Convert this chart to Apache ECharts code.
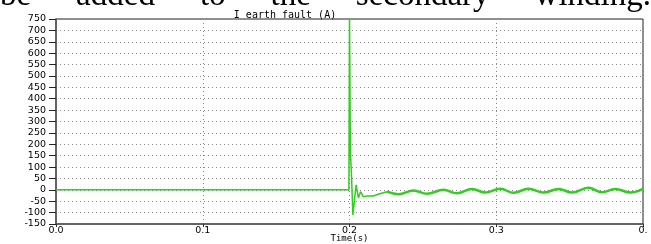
<!DOCTYPE html>
<html>
<head>
<meta charset="utf-8">
<script src="https://cdn.jsdelivr.net/npm/echarts@6/dist/echarts.min.js"></script>
<style>
html, body { margin: 0; padding: 0; background: #fff; overflow: hidden; }
#wrap { position: relative; width: 651px; height: 244px; overflow: hidden; }
#line { position: absolute; left: 0; top: 0; width: 651px; height: 244px; }
#txt {
    position: absolute; left: 0; top: -22px; width: 651px;
    font-family: 'Liberation Serif', serif; font-size: 33px; line-height: 33px;
    text-align: justify; text-align-last: justify; white-space: nowrap; color: #000;
}
</style>
</head>
<body>
<div id="wrap">
    <div id="line"></div>
    <div id="txt">be added to the secondary winding.</div>
</div>
<script>
// time axis ticks
var xTicks = [0, 0.1, 0.2, 0.3, 0.4];
var xTickLabels = ['0.0', '0.1', '0.2', '0.3', '0.'];

// before fault + transient
var tFault = [0, 0.1996, 0.2000, 0.2006, 0.2012, 0.2023, 0.2045, 0.2061, 0.2075, 0.2094, 0.2120, 0.2163, 0.2200, 0.2255];
var iFault = [0, 0, 770, 160, 90, -110, 22, -36, -8, -30, -27, -27, -18, -8];

// steady oscillation after fault (peaks / troughs)
var tOsc = [0.2255, 0.2334, 0.2436, 0.2527, 0.2641, 0.2732, 0.2834, 0.2925, 0.3027, 0.3118, 0.3220, 0.3322, 0.3425, 0.3516, 0.3629, 0.3721, 0.3811, 0.3914, 0.4000];
var iOsc = [-8, -19, -3, -17, 0, -15, 4, -12, 5, -13, 5, -12, 4, -12, 9, -11, 4, -12, 4];

function pairs(t, v) {
    var out = [];
    for (var i = 0; i < t.length; i++) out.push([t[i], v[i]]);
    return out;
}

var line = echarts.init(document.getElementById('line'));
line.setOption({
    animation: false,
    color: ['#33cc22'],
    title: {
        text: 'I earth fault (A)',
        left: 280,
        textAlign: 'center',
        top: 5,
        textStyle: {
            fontFamily: 'DejaVu Sans Mono',
            fontSize: 10,
            fontWeight: 'normal',
            color: '#000'
        }
    },
    grid: {
        left: 56, right: 8, top: 19, bottom: 20,
        outerBoundsMode: 'none',
        containLabel: false,
        show: true,
        borderColor: '#222',
        borderWidth: 1
    },
    xAxis: {
        type: 'value',
        min: 0, max: 0.4, interval: 0.1,
        name: 'Time(s)',
        nameLocation: 'middle',
        nameGap: 10,
        nameMoveOverlap: false,
        nameTextStyle: { fontFamily: 'DejaVu Sans Mono', fontSize: 9, color: '#000' },
        axisLine: { onZero: false, lineStyle: { color: '#555', width: 1.5 } },
        axisTick: { length: 3, lineStyle: { color: '#333' } },
        axisLabel: {
            margin: 2,
            showMinLabel: true, showMaxLabel: true,
            fontFamily: 'DejaVu Sans', fontSize: 9.5, color: '#000',
            formatter: function (v) {
                var k = xTicks.indexOf(Math.round(v * 10) / 10);
                return k >= 0 ? xTickLabels[k] : '';
            }
        },
        splitLine: { show: true, lineStyle: { color: '#888', type: [1, 3] } }
    },
    yAxis: {
        type: 'value',
        min: -150, max: 750, interval: 50,
        axisLine: { show: true, lineStyle: { color: '#555', width: 1.5 } },
        axisTick: { show: true, length: 7, lineStyle: { color: '#222' } },
        axisLabel: {
            margin: 10,
            showMinLabel: true, showMaxLabel: true,
            fontFamily: 'DejaVu Sans', fontSize: 9.5,
            color: '#000'
        },
        splitLine: { show: true, lineStyle: { color: '#888', type: [1, 3] } }
    },
    series: [
        {
            name: 'fault',
            type: 'line',
            data: pairs(tFault, iFault),
            showSymbol: false,
            lineStyle: { width: 1.5 },
            clip: true
        },
        {
            name: 'osc',
            type: 'line',
            data: pairs(tOsc, iOsc),
            showSymbol: false,
            smooth: 0.4,
            lineStyle: { width: 2.5, color: '#33cc22' },
            clip: true
        }
    ]
});
</script>
</body>
</html>
